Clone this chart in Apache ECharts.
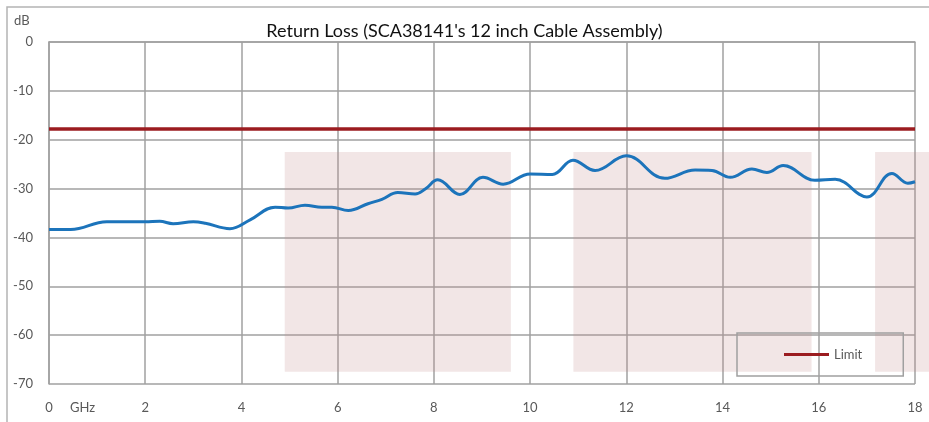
<!DOCTYPE html>
<html>
    <head>
        <meta charset="utf-8">
        <title>Return Loss</title>
        <script src="https://cdn.jsdelivr.net/npm/echarts@6/dist/echarts.min.js"></script>
        <style>
            html, body { margin: 0; padding: 0; background: #fff; }
        </style>
    </head>
    <body>
        <div id="chart1" style="width:929px;height:422px;"></div>
        <script type="text/javascript">
            // frequency (GHz) and measured return loss (dB)
            var freqGHz = [0.00, 0.45, 1.20, 2.00, 2.30, 2.58, 3.00, 3.25, 3.76, 4.18,
                           4.70, 4.97, 5.32, 5.67, 5.88, 6.22, 6.63, 6.92, 7.25, 7.61,
                           7.82, 8.08, 8.54, 9.02, 9.44, 10.00, 10.46, 10.89, 11.35, 12.00,
                           12.80, 13.43, 13.78, 14.16, 14.61, 14.92, 15.26, 15.92, 16.34, 17.00,
                           17.52, 17.85, 18.00];
            var returnLoss = [-38.4, -38.4, -36.8, -36.8, -36.7, -37.2, -36.8, -37.1, -38.2, -36.4,
                              -33.8, -34.0, -33.4, -33.8, -33.8, -34.5, -33.1, -32.2, -30.8, -31.1,
                              -30.1, -28.2, -31.2, -27.7, -29.1, -27.0, -27.1, -24.2, -26.3, -23.3,
                              -27.9, -26.2, -26.3, -27.7, -26.0, -26.7, -25.3, -28.3, -28.1, -31.7,
                              -26.9, -28.9, -28.6];
            var limitValue = -17.8;
            var limitRange = [0, 18];
            // shaded bands [fromGHz, toGHz, top dB, bottom dB]
            var bands = [[4.9, 9.6, -22.5, -67.5], [10.9, 15.85, -22.5, -67.5], [17.17, 18.3, -22.5, -67.5]];

            var txtColor = '#595959';
            var gridColor = '#a0a0a0';
            var fontName = 'Lato';

            // the last band runs past 18 GHz to the chart edge, so the bands sit on a
            // hidden axis with the same scale that reaches to the right edge
            var plotLeft = 49, plotRight = 14, chartW = 929;
            var bandMax = 18 * (chartW - plotLeft) / (chartW - plotLeft - plotRight);

            var myChart1 = echarts.init(document.getElementById('chart1'));

            var option = {
                animation: false,
                textStyle: { fontFamily: fontName },
                title: {
                    text: "Return Loss (SCA38141's 12 inch Cable Assembly)",
                    left: 'center',
                    top: 17,
                    textStyle: { fontSize: 18, fontWeight: 'normal', color: '#111', fontFamily: fontName }
                },
                legend: {
                    data: ['Limit'],
                    left: 737,
                    top: 333,
                    padding: [15, 41, 15, 47],
                    borderColor: gridColor,
                    borderWidth: 1.5,
                    icon: 'rect',
                    itemWidth: 45,
                    itemHeight: 3,
                    itemGap: 4,
                    textStyle: { color: txtColor, fontSize: 13, fontFamily: fontName }
                },
                graphic: [
                    { type: 'rect', shape: { x: 7, y: 7, width: 940, height: 430 }, style: { fill: 'none', stroke: '#b4b4b4', lineWidth: 1.5 }, z: -10 },
                    { type: 'text', left: 14, top: 14, style: { text: 'dB', fill: txtColor, font: '13px ' + fontName } },
                    { type: 'text', left: 70, top: 401, style: { text: 'GHz', fill: txtColor, font: '13px ' + fontName } }
                ],
                grid: [
                    { left: plotLeft, right: plotRight, top: 42, bottom: 38 },
                    { left: plotLeft, right: 0, top: 42, bottom: 38 }
                ],
                xAxis: [
                    {
                        type: 'value',
                        min: 0,
                        max: 18,
                        interval: 2,
                        axisLine: { show: true, lineStyle: { color: gridColor, width: 1.5 } },
                        axisTick: { show: false },
                        axisLabel: { color: txtColor, fontSize: 13, margin: 17 },
                        splitLine: { show: true, lineStyle: { color: gridColor, width: 1.5 } }
                    },
                    { type: 'value', gridIndex: 1, min: 0, max: bandMax, show: false }
                ],
                yAxis: [
                    {
                        type: 'value',
                        min: -70,
                        max: 0,
                        interval: 10,
                        axisLine: { show: true, lineStyle: { color: gridColor, width: 1.5 } },
                        axisTick: { show: false },
                        axisLabel: { color: txtColor, fontSize: 13, margin: 16 },
                        splitLine: { show: true, lineStyle: { color: gridColor, width: 1.5 } }
                    },
                    { type: 'value', gridIndex: 1, min: -70, max: 0, show: false }
                ],
                series: [
                    {
                        name: 'bands',
                        type: 'line',
                        xAxisIndex: 1,
                        yAxisIndex: 1,
                        data: [],
                        silent: true,
                        markArea: {
                            silent: true,
                            itemStyle: { color: 'rgba(190,130,130,0.2)' },
                            data: bands.map(function (b) {
                                return [{ coord: [b[0], b[2]] }, { coord: [b[1], b[3]] }];
                            })
                        }
                    },
                    {
                        name: 'Limit',
                        type: 'line',
                        showSymbol: false,
                        data: limitRange.map(function (f) { return [f, limitValue]; }),
                        lineStyle: { color: '#9b1c20', width: 3.5 },
                        itemStyle: { color: '#9b1c20' },
                        z: 3
                    },
                    {
                        name: 'Return Loss',
                        type: 'line',
                        showSymbol: false,
                        smooth: 0.4,
                        data: freqGHz.map(function (f, i) { return [f, returnLoss[i]]; }),
                        lineStyle: { color: '#1c74bb', width: 3 },
                        itemStyle: { color: '#1c74bb' },
                        z: 4
                    }
                ]
            };
            myChart1.setOption(option);
        </script>
    </body>
</html>
